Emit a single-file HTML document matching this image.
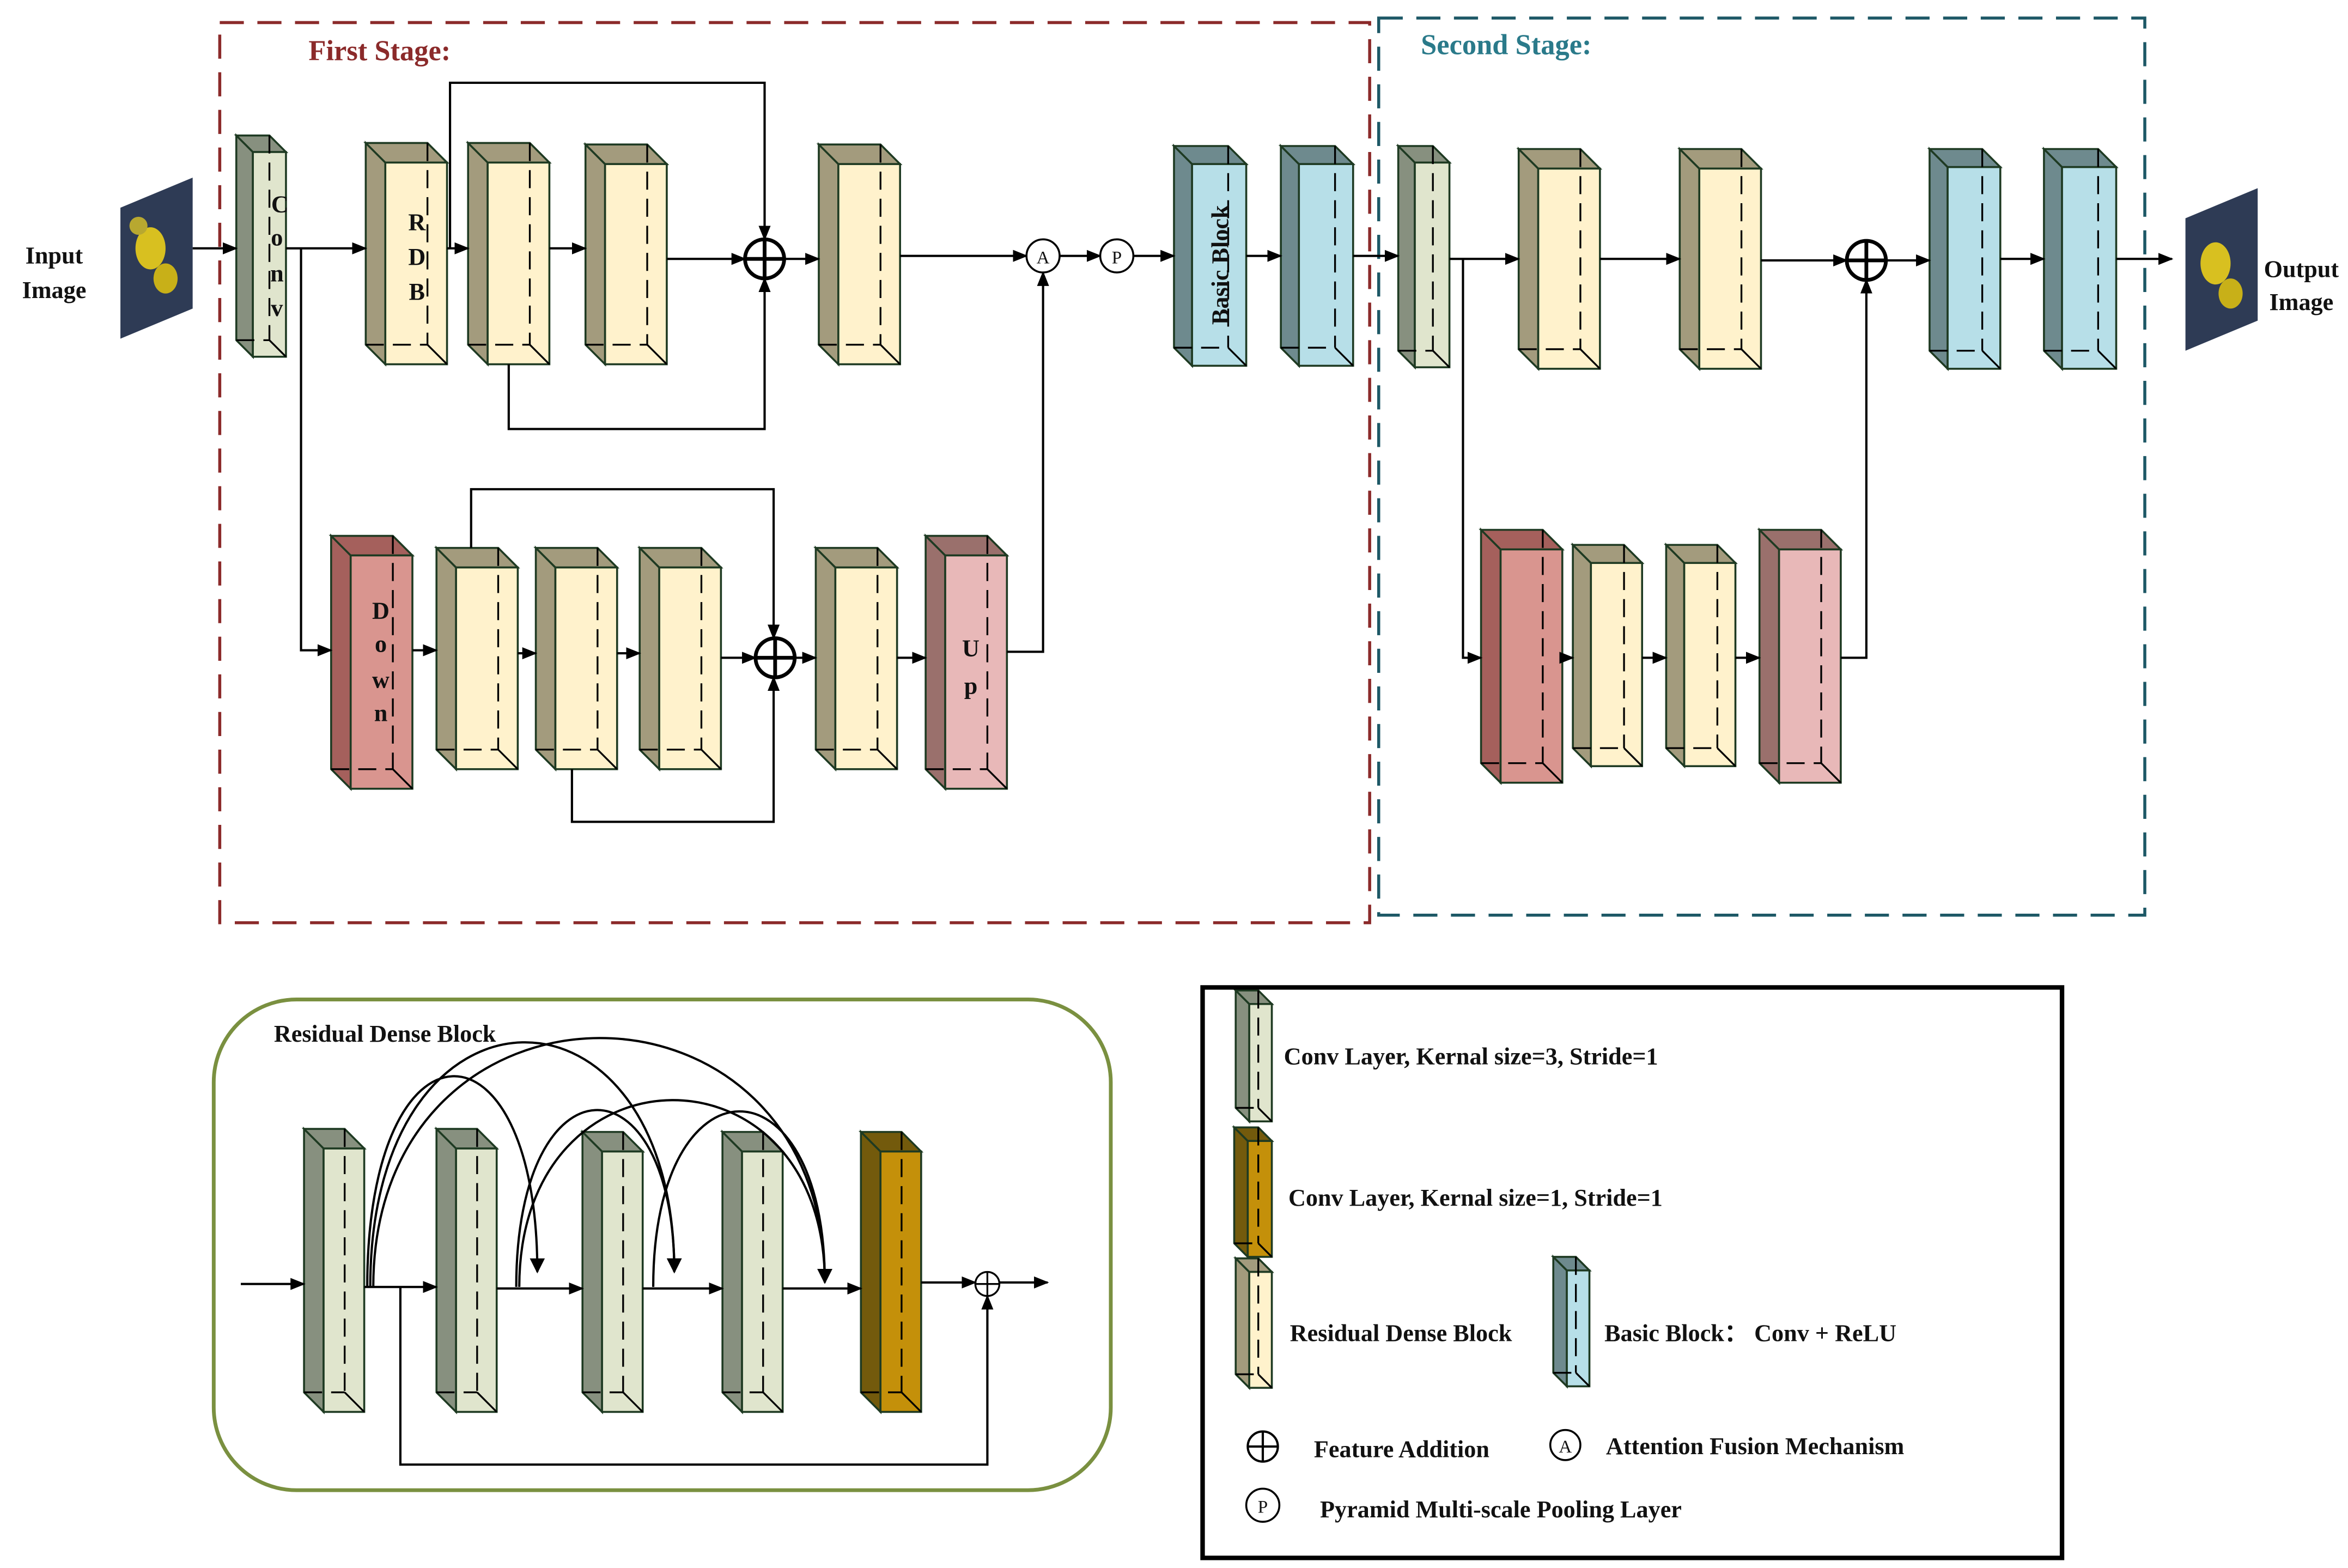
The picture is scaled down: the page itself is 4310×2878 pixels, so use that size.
<!DOCTYPE html>
<html><head><meta charset="utf-8"><style>
html,body{margin:0;padding:0;background:#fff;}
svg{display:block;}
text{font-family:"Liberation Serif",serif;font-weight:bold;fill:#111;}
</style></head><body>
<svg id="s" xmlns="http://www.w3.org/2000/svg" width="4310" height="2878" viewBox="0 0 1560 1041.7" preserveAspectRatio="none">
<defs>
<marker id="ar" markerWidth="10" markerHeight="8" refX="9" refY="4" orient="auto" markerUnits="userSpaceOnUse"><path d="M0,0 L10,4 L0,8 z" fill="#000"/></marker>
<marker id="ar2" markerWidth="10" markerHeight="14" refX="9" refY="5" orient="auto" markerUnits="userSpaceOnUse"><path d="M0,0 L10,5 L0,10 z" fill="#000"/></marker>
</defs>
<rect x="146" y="15" width="764" height="598" fill="none" stroke="#8b2a2a" stroke-width="2" stroke-dasharray="16,9"/>
<rect x="916" y="12" width="509" height="596" fill="none" stroke="#1d5866" stroke-width="2" stroke-dasharray="16,9"/>
<g id="blocks"></g>
<g id="lines" stroke="#000" stroke-width="1.5" fill="none"></g>
<!-- images -->
<polygon points="80,138 128,118 128,205 80,225" fill="#2e3b55"/>
<ellipse cx="100" cy="165" rx="10" ry="14" fill="#d8c020"/><ellipse cx="110" cy="185" rx="8" ry="10" fill="#c8b018"/><ellipse cx="92" cy="150" rx="6" ry="6" fill="#b8a830"/>
<polygon points="1452,145 1500,125 1500,213 1452,233" fill="#2e3b55"/>
<ellipse cx="1472" cy="175" rx="10" ry="14" fill="#d8c020"/><ellipse cx="1482" cy="195" rx="8" ry="10" fill="#c8b018"/>
<g font-size="16">
<text x="205" y="40" style="fill:#8b2a2a" font-size="19">First Stage:</text>
<text x="944" y="36" style="fill:#2a7a8a" font-size="19">Second Stage:</text>
<text x="36" y="175" text-anchor="middle">Input</text><text x="36" y="198" text-anchor="middle">Image</text>
<text x="1529" y="184" text-anchor="middle">Output</text><text x="1529" y="206" text-anchor="middle">Image</text>
<text x="186" y="141" text-anchor="middle">C</text><text x="184" y="163" text-anchor="middle">o</text><text x="184" y="187" text-anchor="middle">n</text><text x="184" y="210" text-anchor="middle">v</text>
<text x="277" y="153" text-anchor="middle">R</text><text x="277" y="176" text-anchor="middle">D</text><text x="277" y="199" text-anchor="middle">B</text>
<text x="253" y="411" text-anchor="middle">D</text><text x="253" y="433" text-anchor="middle">o</text><text x="253" y="457" text-anchor="middle">w</text><text x="253" y="479" text-anchor="middle">n</text>
<text x="645" y="436" text-anchor="middle">U</text><text x="645" y="461" text-anchor="middle">p</text>
<text transform="translate(816,176) rotate(-90)" text-anchor="middle">Basic Block</text>
<text x="182" y="692">Residual Dense Block</text>
<text x="853" y="707">Conv Layer, Kernal size=3, Stride=1</text>
<text x="856" y="801">Conv Layer, Kernal size=1, Stride=1</text>
<text x="857" y="891">Residual Dense Block</text>
<text x="1066" y="891">Basic Block： Conv + ReLU</text>
<text x="873" y="968">Feature Addition</text>
<text x="1067" y="966">Attention Fusion Mechanism</text>
<text x="877" y="1008">Pyramid Multi-scale Pooling Layer</text>
</g>
<rect x="142" y="664" width="596" height="326" rx="55" fill="none" stroke="#7a9040" stroke-width="2.5"/>
<rect x="799" y="656" width="571" height="379" fill="none" stroke="#000" stroke-width="3"/>
<g stroke="#000" stroke-width="1.3" fill="#fff">
<circle cx="693" cy="170" r="11"/><circle cx="742" cy="170" r="11"/>
<circle cx="1040" cy="960" r="10"/><circle cx="839" cy="1000" r="11"/>
</g>
<g font-size="12" text-anchor="middle" style="font-weight:normal">
<text x="693" y="175" style="font-weight:normal">A</text><text x="742" y="175" style="font-weight:normal">P</text>
<text x="1040" y="965" style="font-weight:normal">A</text><text x="839" y="1005" style="font-weight:normal">P</text>
</g>
<g id="plus" stroke="#000" fill="none"></g>
</svg>
<script>
const NS="http://www.w3.org/2000/svg";
const B=document.getElementById('blocks'),L=document.getElementById('lines'),P=document.getElementById('plus');
function el(p,tag,a){const e=document.createElementNS(NS,tag);for(const k in a)e.setAttribute(k,a[k]);p.appendChild(e);return e;}
const C={rdb:['#a39b7d','#fff2cc'],conv:['#87907f','#e0e5cd'],basic:['#6e8a8e','#b7dfe8'],down:['#a5605c','#d9958f'],up:['#9a706c','#e8b8b8'],k1:['#735a0c','#c4900a']};
function blk(x0,y0,x1,y1,d,t){const [s,f]=C[t];const w=x1-x0-d,h=y1-y0,x=x0,y=y0;const st={stroke:'#1e3a22','stroke-width':1.3};
el(B,'polygon',Object.assign({points:`${x},${y} ${x+d},${y+d} ${x+d},${y+h} ${x},${y+h-d}`,fill:s},st));
el(B,'polygon',Object.assign({points:`${x},${y} ${x+w},${y} ${x+w+d},${y+d} ${x+d},${y+d}`,fill:s},st));
el(B,'rect',Object.assign({x:x+d,y:y+d,width:w,height:h-d,fill:f},st));
const ds={stroke:'#000','stroke-width':1.2,'stroke-dasharray':'12,6',fill:'none'};
el(B,'line',Object.assign({x1:x+w,y1:y,x2:x+w,y2:y+h-d},ds));
el(B,'line',Object.assign({x1:x,y1:y+h-d,x2:x+w,y2:y+h-d},ds));
el(B,'line',Object.assign({x1:x+w,y1:y+h-d,x2:x+w+d,y2:y+h},{stroke:'#000','stroke-width':1.2}));}
function ln(pts,arrow=true,m='ar'){const a={points:pts};if(arrow)a['marker-end']=`url(#${m})`;el(L,'polyline',a);}
function plus(cx,cy,r,sw){el(P,'circle',{cx,cy,r,'stroke-width':sw});el(P,'line',{x1:cx-r,y1:cy,x2:cx+r,y2:cy,'stroke-width':sw});el(P,'line',{x1:cx,y1:cy-r,x2:cx,y2:cy+r,'stroke-width':sw});}
// top
blk(157,90,190,237,11,'conv');
blk(243,95,297,242,13,'rdb');blk(311,95,365,242,13,'rdb');blk(389,96,443,242,13,'rdb');blk(544,96,598,242,13,'rdb');
blk(780,97,828,243,12,'basic');blk(851,97,899,243,12,'basic');
blk(929,97,963,244,11,'conv');blk(1009,99,1063,245,13,'rdb');blk(1116,99,1170,245,13,'rdb');
blk(1282,99,1329,245,12,'basic');blk(1358,99,1406,245,12,'basic');
blk(220,356,274,524,13,'down');blk(290,364,344,511,13,'rdb');blk(356,364,410,511,13,'rdb');blk(425,364,479,511,13,'rdb');
blk(542,364,596,511,13,'rdb');blk(615,356,669,524,13,'up');
blk(984,352,1038,520,13,'down');blk(1045,362,1091,509,12,'rdb');blk(1107,362,1153,509,12,'rdb');blk(1169,352,1223,520,13,'up');
// bottom RDB
blk(202,750,242,938,13,'conv');blk(290,750,330,938,13,'conv');blk(387,752,427,938,13,'conv');blk(480,752,520,938,13,'conv');blk(572,752,612,938,13,'k1');
// legend
blk(821,658,845,745,9,'conv');blk(820,749,845,835,9,'k1');blk(821,836,845,922,9,'rdb');blk(1032,835,1056,921,9,'basic');
// lines
ln('128,165 157,165');ln('190,165 243,165');ln('200,165 200,432 220,432');
ln('297,165 311,165');ln('365,165 389,165');ln('299,165 299,55 508,55 508,159');
ln('443,172 495,172');ln('338,242 338,285 508,285 508,185');ln('521,172 544,172');
ln('598,170 682,170');ln('704,170 731,170');ln('753,170 780,170');ln('828,170 851,170');ln('899,170 929,170');
ln('963,172 1009,172');ln('972,172 972,437 984,437');ln('1063,172 1116,172');ln('1170,173 1227,173');ln('1253,173 1282,173');
ln('1329,172 1358,172');ln('1406,172 1443,172');
ln('274,432 290,432');ln('344,434 356,434');ln('410,434 425,434');ln('479,437 502,437');
ln('313,364 313,325 514,325 514,424');ln('380,511 380,546 514,546 514,450');ln('528,437 542,437');ln('596,437 615,437');
ln('669,433 693,433 693,181');
ln('1038,437 1045,437');ln('1091,437 1107,437');ln('1153,437 1169,437');ln('1223,437 1240,437 1240,186');
ln('160,853 202,853');ln('242,855 290,855');ln('330,856 387,856');ln('427,856 480,856');ln('520,856 572,856');ln('612,852 648,852');ln('664,852 696,852');
ln('266,855 266,973 656,973 656,861');
// arcs
function arc(x1,x2,top,y2){el(L,'path',{d:`M${x1},855 C${x1},${top} ${x2},${top} ${x2},${y2}`,'marker-end':'url(#ar2)'});}
arc(244,357,670,845);arc(246,448,640,845);arc(248,548,635,852);arc(343,448,700,845);arc(345,548,690,852);arc(434,548,700,852);
plus(508,172,13,2.5);plus(515,437,13,2.5);plus(1240,173,13,2.5);plus(656,853,8,1.2);plus(839,961,10,1.5);
</script>
</body></html>
